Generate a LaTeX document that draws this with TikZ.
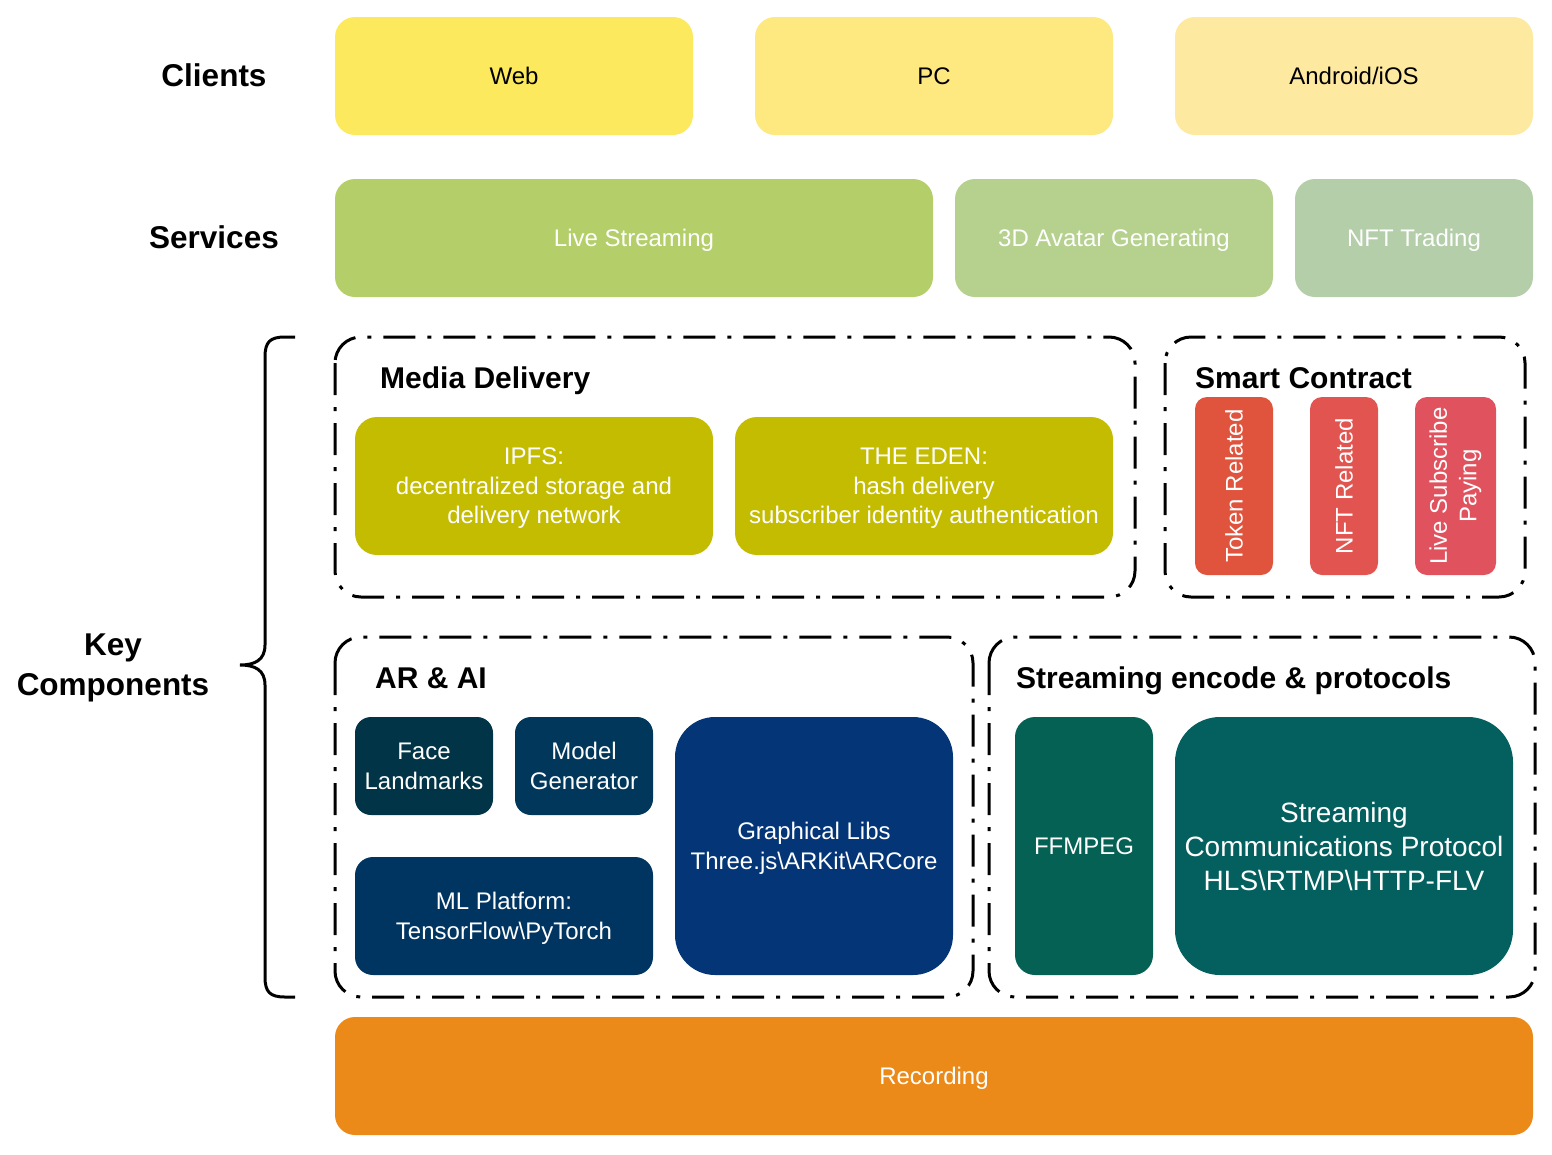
\documentclass[tikz,border=0pt]{standalone}
\usepackage{fontspec}
\setmainfont{Liberation Sans}
\definecolor{cweb}{HTML}{FDE95E}
\definecolor{cpc}{HTML}{FEE981}
\definecolor{cand}{HTML}{FDE99F}
\definecolor{clive}{HTML}{B4CF6A}
\definecolor{cavatar}{HTML}{B5D18D}
\definecolor{cnft}{HTML}{B3CEA9}
\definecolor{colive}{HTML}{C4BC00}
\definecolor{ctoken}{HTML}{E0533C}
\definecolor{cnftrel}{HTML}{E25450}
\definecolor{clivesub}{HTML}{E0525D}
\definecolor{cface}{HTML}{003446}
\definecolor{cmodel}{HTML}{00375A}
\definecolor{cml}{HTML}{003562}
\definecolor{cgraph}{HTML}{043677}
\definecolor{cffmpeg}{HTML}{046154}
\definecolor{cproto}{HTML}{03605F}
\definecolor{crec}{HTML}{EC8A19}
\begin{document}
\begin{tikzpicture}[x=1pt,y=-1pt,
  basebox/.style={draw=none,inner sep=0pt,align=center,text=white,
    font=\fontsize{24}{29.5}\selectfont},
  fbox/.style={basebox,text depth=0pt},
  sidelabel/.style={font=\fontsize{31.5}{40}\selectfont\bfseries,align=center,inner sep=0pt,text depth=0pt},
  grouptitle/.style={font=\fontsize{30}{36}\selectfont\bfseries,anchor=west,inner sep=0pt,text depth=0pt},
  container/.style={draw=black,line width=3pt,rounded corners=26pt,
    dash pattern=on 32pt off 12pt on 4pt off 12pt},
  bracestyle/.style={draw=black,line width=3pt}]
\useasboundingbox (0,0) rectangle (1552,1154);

% side labels
\node[sidelabel] (lclients) at (214,75) {Clients};
\node[sidelabel] (lservices) at (214,237) {Services};
\node[sidelabel] (lkey) at (113,665) {Key\\Components};

% clients
\node[fbox,text=black,fill=cweb,minimum width=358pt,minimum height=118pt,rounded corners=20pt] (web) at (514,76) {Web};
\node[fbox,text=black,fill=cpc,minimum width=358pt,minimum height=118pt,rounded corners=20pt] (pc) at (934,76) {PC};
\node[fbox,text=black,fill=cand,minimum width=358pt,minimum height=118pt,rounded corners=20pt] (android) at (1354,76) {Android/iOS};

% services
\node[fbox,fill=clive,minimum width=598pt,minimum height=118pt,rounded corners=20pt] (live) at (634,238) {Live Streaming};
\node[fbox,fill=cavatar,minimum width=318pt,minimum height=118pt,rounded corners=20pt] (avatar) at (1114,238) {3D Avatar Generating};
\node[fbox,fill=cnft,minimum width=238pt,minimum height=118pt,rounded corners=20pt] (nft) at (1414,238) {NFT Trading};

% containers
\draw[container] (335,337) rectangle (1135,597);
\draw[container] (1165,337) rectangle (1525,597);
\draw[container] (335,637) rectangle (973,997);
\draw[container] (989,637) rectangle (1535,997);

\node[grouptitle] (tmedia) at (380,378) {Media Delivery};
\node[grouptitle] (tsmart) at (1195,378) {Smart Contract};
\node[grouptitle] (tar) at (375,678) {AR \& AI};
\node[grouptitle] (tstream) at (1016,678) {Streaming encode \& protocols};

% media delivery
\node[fbox,fill=colive,minimum width=358pt,minimum height=138pt,rounded corners=22pt] (ipfs) at (534,486) {IPFS:\\decentralized storage and\\delivery network};
\node[fbox,fill=colive,minimum width=378pt,minimum height=138pt,rounded corners=22pt] (eden) at (924,486) {THE EDEN:\\hash delivery\\subscriber identity authentication};

% smart contract
\node[basebox,fill=ctoken,rotate=90,minimum width=178pt,minimum height=78pt,rounded corners=12pt] (token) at (1234,486) {Token Related};
\node[basebox,fill=cnftrel,rotate=90,minimum width=178pt,minimum height=68pt,rounded corners=12pt] (nftrel) at (1344,486) {NFT Related};
\node[basebox,fill=clivesub,rotate=90,minimum width=178pt,minimum height=81pt,rounded corners=12pt] (livesub) at (1455.5,486) {Live Subscribe\\Paying};

% AR & AI
\node[fbox,fill=cface,minimum width=138pt,minimum height=98pt,rounded corners=16pt] (face) at (424,766) {Face\\Landmarks};
\node[fbox,fill=cmodel,minimum width=138pt,minimum height=98pt,rounded corners=16pt] (model) at (584,766) {Model\\Generator};
\node[fbox,fill=cml,minimum width=298pt,minimum height=118pt,rounded corners=18pt] (ml) at (504,916) {ML Platform:\\TensorFlow\textbackslash PyTorch};
\node[fbox,fill=cgraph,minimum width=278pt,minimum height=258pt,rounded corners=40pt] (graph) at (814,846) {Graphical Libs\\Three.js\textbackslash ARKit\textbackslash ARCore};

% streaming
\node[fbox,fill=cffmpeg,minimum width=138pt,minimum height=258pt,rounded corners=20pt] (ffmpeg) at (1084,846) {FFMPEG};
\node[fbox,fill=cproto,minimum width=338pt,minimum height=258pt,rounded corners=45pt,font=\fontsize{28}{34}\selectfont] (proto) at (1344,846) {Streaming\\Communications Protocol\\HLS\textbackslash RTMP\textbackslash HTTP-FLV};

% recording
\node[fbox,fill=crec,minimum width=1198pt,minimum height=118pt,rounded corners=20pt] (rec) at (934,1076) {Recording};

% brace
\draw[bracestyle] (295,337) -- (285,337) .. controls (270,337) and (265,342) .. (265,357)
  -- (265,645) .. controls (265,660) and (255,665) .. (240,665)
  .. controls (255,665) and (265,670) .. (265,685)
  -- (265,977) .. controls (265,992) and (270,997) .. (285,997) -- (295,997);
\end{tikzpicture}
\end{document}
